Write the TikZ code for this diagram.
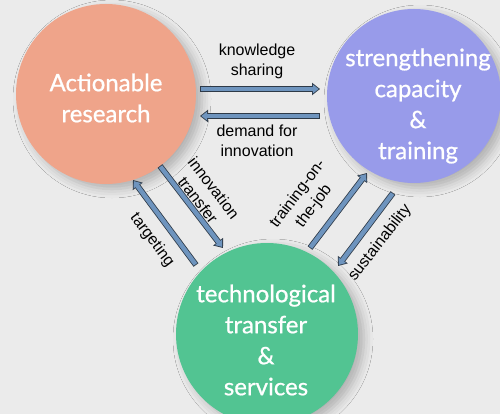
\documentclass[tikz,border=0pt]{standalone}
\usepackage{fontspec}
\setmainfont{Liberation Sans}
\newfontfamily\hubfont[FakeBold=0.8]{Lato}
\usetikzlibrary{calc}
\usetikzlibrary{arrows.meta}
\usetikzlibrary{shadows.blur}

\definecolor{bgcol}{HTML}{EBEBEB}
\definecolor{salmon}{HTML}{EFA48A}
\definecolor{lavender}{HTML}{989BEA}
\definecolor{mint}{HTML}{52C492}
\definecolor{arrowblue}{HTML}{6E94BE}
\definecolor{arrowline}{HTML}{2E3A48}

\tikzset{
  hub/.style={circle, inner sep=0pt,
    blur shadow={shadow xshift=6pt, shadow yshift=-5pt,
      shadow blur radius=9pt, shadow opacity=25}},
  hubtext/.style={text=white, align=center,
    font=\hubfont\fontsize{24}{31}\selectfont},
  lbl/.style={align=center, font=\fontsize{16}{20}\selectfont},
  arr/.style={line width=4.4pt, draw=arrowblue,
    -{Triangle[length=5.9pt,width=8.8pt]},
    shorten >=1.33pt, shorten <=0.8pt,
    preaction={draw=arrowline, line width=6pt,
      -{Triangle[length=8pt,width=12pt]},
      shorten >=0pt, shorten <=0pt}}
}

\begin{document}
\begin{tikzpicture}[x=1pt, y=-1pt]
  \fill[bgcol] (0,0) rectangle (500,414);
  \useasboundingbox (0,0) rectangle (500,414);

  % the three circles
  \node[hub, fill=salmon,   minimum size=180pt] (research) at (106, 94) {};
  \node[hub, fill=lavender, minimum size=174pt] (capacity) at (414, 96) {};
  \node[hub, fill=mint,     minimum size=182pt] (transfer) at (267,334) {};

  \node[hubtext] (research-txt) at (106, 98) {Actionable\\research};
  \node[hubtext] (capacity-txt) at (418,106) {strengthening\\capacity\\\&\\training};
  \node[hubtext] (transfer-txt) at (266,340) {technological\\transfer\\\&\\services};

  % arrows
  \draw[arr] ($(research)+(94,-5)$)  -- ($(capacity)+(-94,-7)$);
  \draw[arr] ($(capacity)+(-94,20)$) -- ($(research)+(94,22)$);
  \draw[arr] ($(research)+(54,72)$)  -- ($(transfer)+(-44,-86)$);
  \draw[arr] ($(transfer)+(-71,-69)$) -- ($(research)+(27,86)$);
  \draw[arr] ($(transfer)+(43,-86)$) -- ($(capacity)+(-47,77)$);
  \draw[arr] ($(capacity)+(-21,97)$) -- ($(transfer)+(71,-68)$);

  % labels
  \node[lbl] (ks) at (257, 61) {knowledge\\sharing};
  \node[lbl] (di) at (257,141) {demand for\\innovation};
  \node[lbl, rotate=-52.5] (it) at (206,194) {innovation\\transfer};
  \node[lbl, rotate=-53]   (tg) at (152,240) {targeting};
  \node[lbl, rotate=53]    (tj) at (306,200) {training-on-\\the-job};
  \node[lbl, rotate=52]    (su) at (380,243) {sustainability};
\end{tikzpicture}
\end{document}
